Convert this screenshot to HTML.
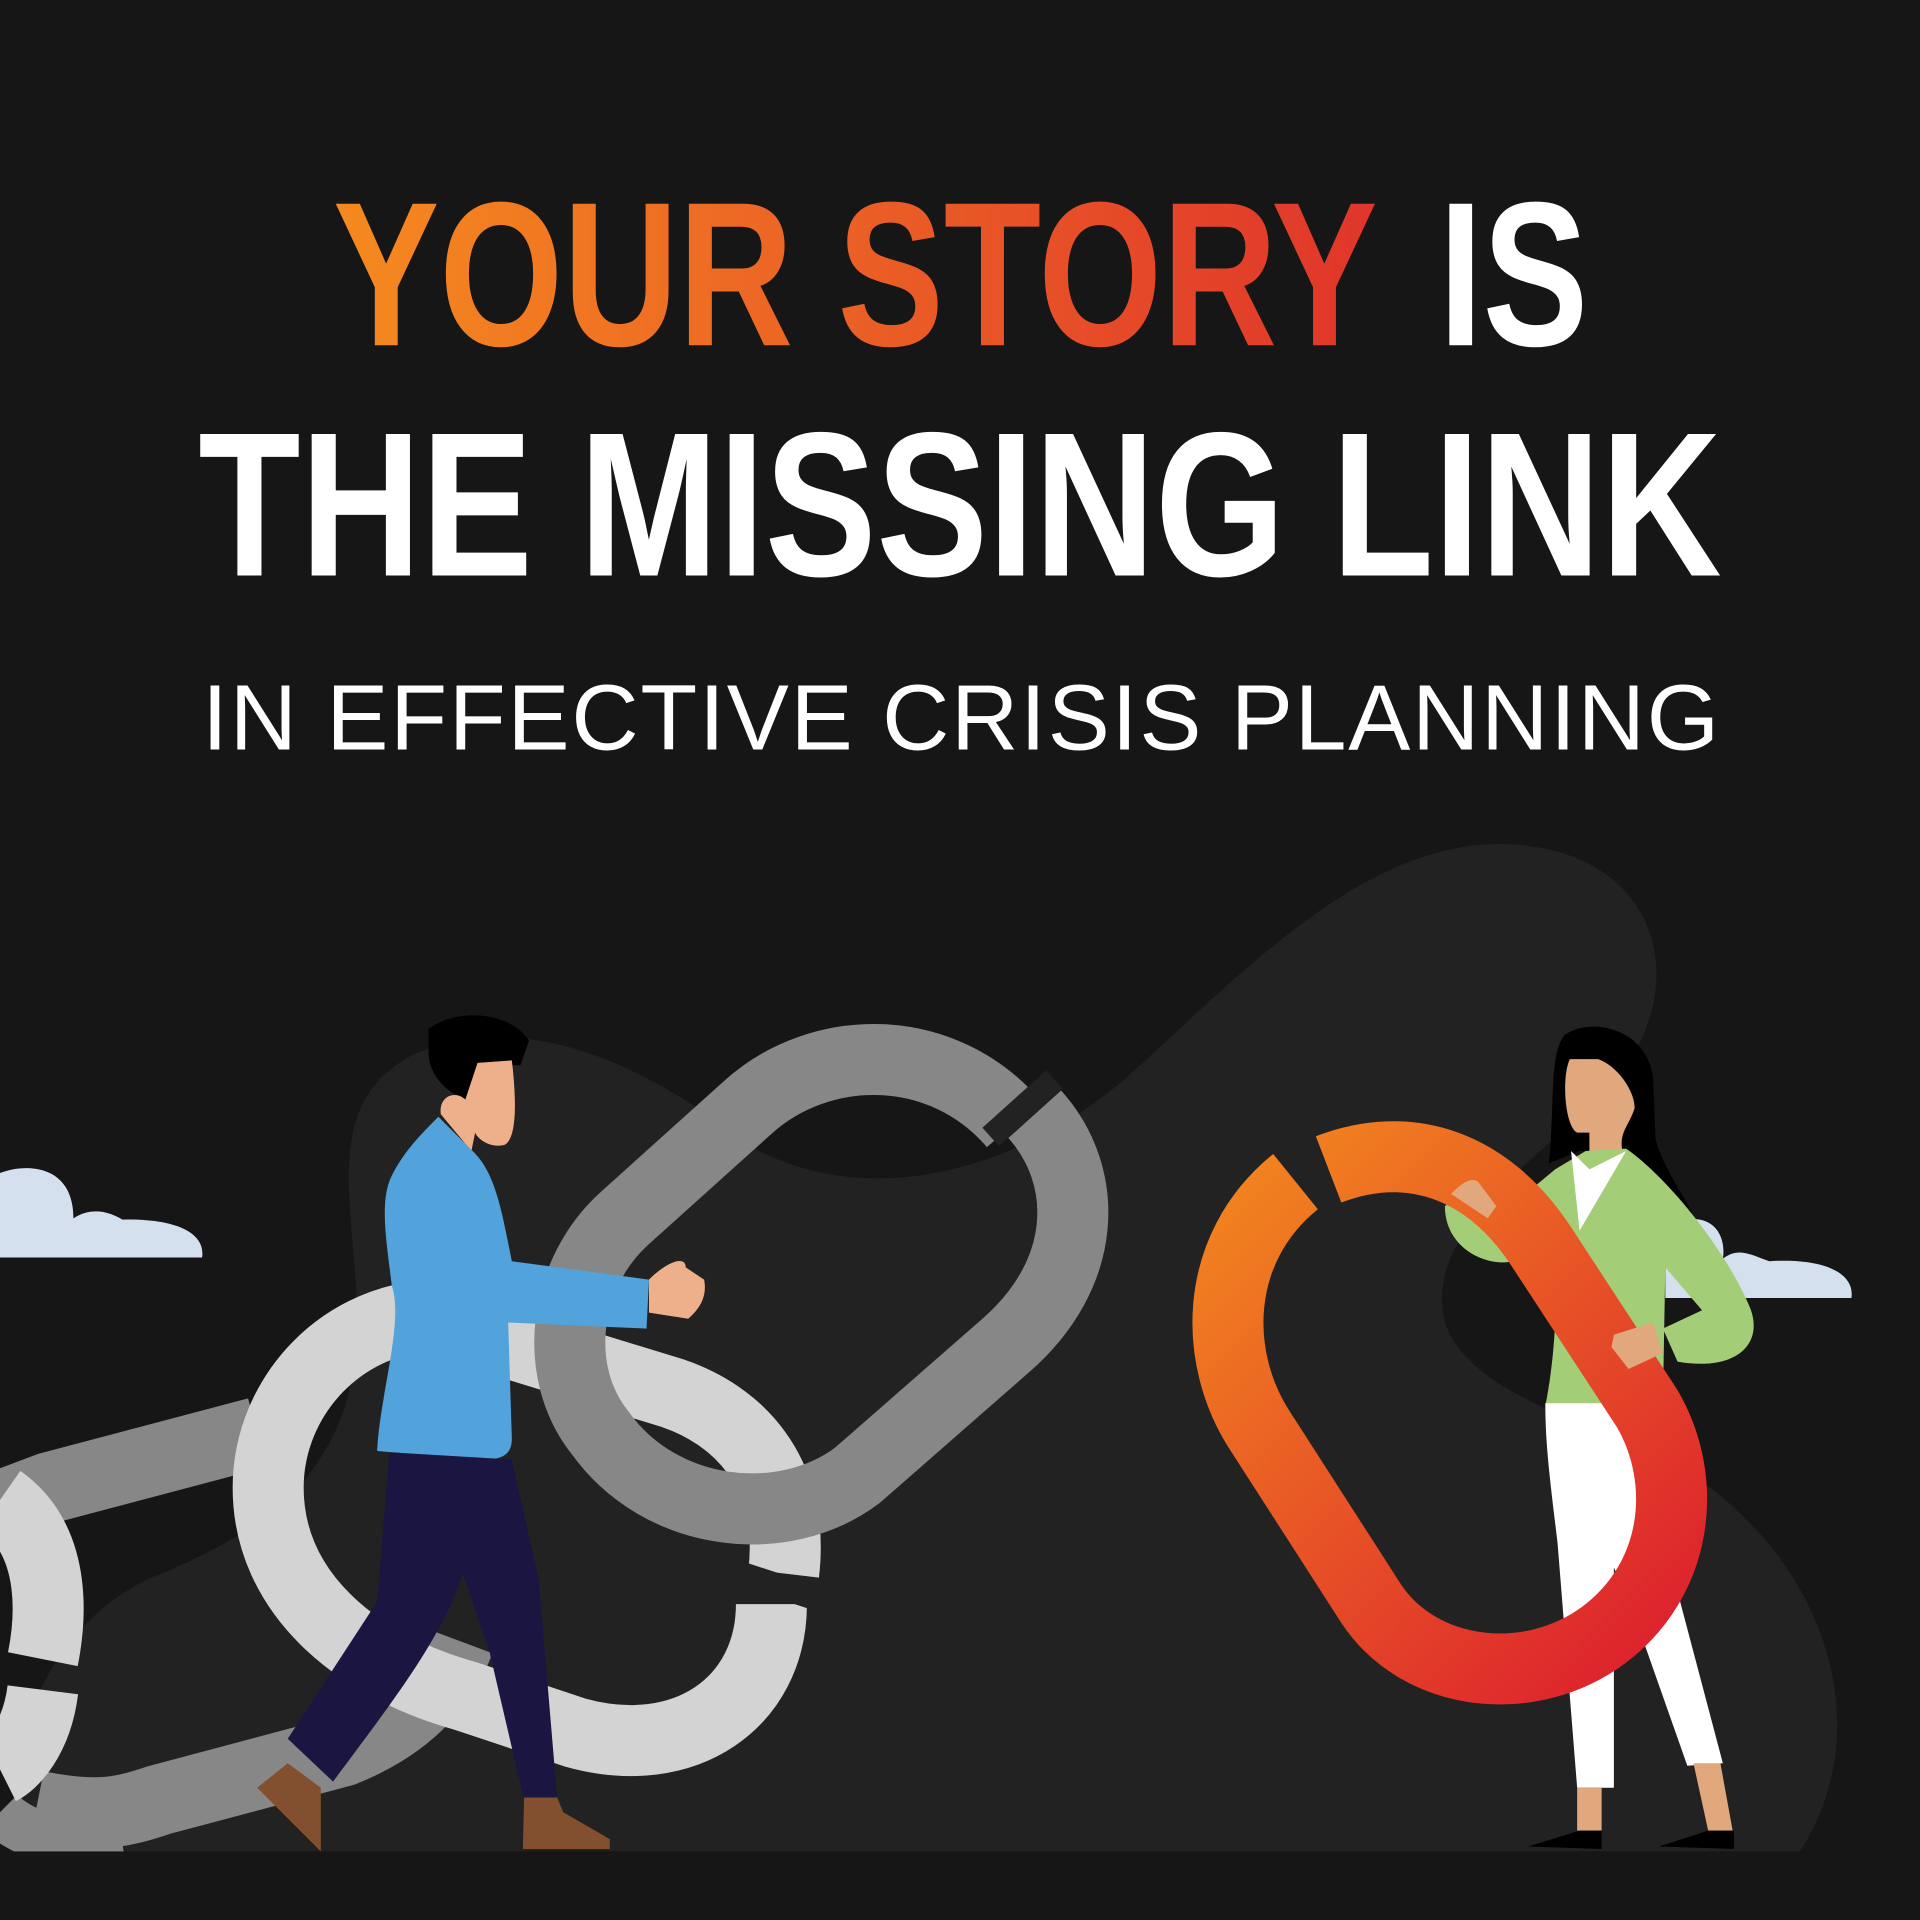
<!DOCTYPE html>
<html><head><meta charset="utf-8"><style>
html,body{margin:0;padding:0;background:#161616;}
svg{display:block;}
</style></head><body>
<svg width="1920" height="1920" viewBox="0 0 1568 1568" xmlns="http://www.w3.org/2000/svg">
<defs>
<linearGradient id="tg" x1="272" y1="0" x2="1125" y2="0" gradientUnits="userSpaceOnUse">
<stop offset="0" stop-color="#f58a1f"/><stop offset="1" stop-color="#e0352b"/></linearGradient>
<linearGradient id="og" x1="1000" y1="950" x2="1390" y2="1340" gradientUnits="userSpaceOnUse">
<stop offset="0" stop-color="#f2861f"/><stop offset="1" stop-color="#dc1e2e"/></linearGradient>
</defs>
<rect width="1568" height="1568" fill="#161616"/>
<!-- blob -->
<path d="M20 1512 C0 1420 40 1330 120 1290 C220 1250 290 1200 292 1080 C290 980 260 900 340 860 C440 820 540 880 620 940 C720 990 840 950 920 880 C1020 790 1120 680 1240 690 C1360 700 1380 810 1320 880 C1270 940 1160 1000 1180 1080 C1200 1140 1300 1160 1390 1210 C1500 1290 1530 1420 1470 1512 Z" fill="#222"/>
<!-- title -->
<g font-family="'Liberation Sans',sans-serif" font-weight="bold">
<text x="272" y="282" font-size="168" textLength="853" lengthAdjust="spacingAndGlyphs" fill="url(#tg)">YOUR STORY</text>
<text x="1175" y="282" font-size="168" textLength="122" lengthAdjust="spacingAndGlyphs" fill="#fff">IS</text>
<text x="162" y="470" font-size="168" textLength="1244" lengthAdjust="spacingAndGlyphs" fill="#fff">THE MISSING LINK</text>
</g>
<text x="165" y="612" font-family="'Liberation Sans',sans-serif" font-size="76" textLength="1239" lengthAdjust="spacing" fill="#fff">IN EFFECTIVE CRISIS PLANNING</text>
<!-- clouds -->
<path d="M0 1027 L0 958 C20 950 60 950 60 995 C75 985 90 990 100 996 C150 995 168 1010 165 1027 Z" fill="#d5e0ef"/>
<path d="M1360 1060 L1360 1000 C1400 985 1410 1010 1407 1028 C1420 1018 1430 1025 1445 1030 C1490 1027 1515 1040 1512 1060 Z" fill="#d5e0ef"/>
<!-- back-left dark chain -->
<path d="M0 1230 L40 1215 L210 1170 M30 1475 C80 1485 100 1480 130 1470 L280 1430 C330 1410 360 1380 375 1340" fill="none" stroke="#878787" stroke-width="58" stroke-linecap="butt"/>
<path d="M0 1480 C20 1500 60 1510 100 1505" fill="none" stroke="#878787" stroke-width="40"/>
<!-- leftmost light partial -->
<path d="M0 1225 C50 1260 40 1330 35 1355 M35 1380 C30 1420 10 1440 0 1445" fill="none" stroke="#d3d3d3" stroke-width="58"/>
<!-- light gray link -->
<path d="M360 1074 C280 1074 219 1140 219 1215 C219 1300 290 1360 380 1385 L470 1415 C560 1440 630 1390 630 1310 M640 1285 C650 1200 600 1155 550 1138 L410 1095 C390 1085 375 1074 360 1074" fill="none" stroke="#d3d3d3" stroke-width="58"/>
<rect x="595" y="1285" width="80" height="20" fill="#222" transform="rotate(18 635 1295)"/>
<!-- dark gray link -->
<path d="M828 918 C770 850 670 850 610 905 L510 995 C460 1040 450 1120 490 1170 C540 1240 640 1250 700 1205 L820 1100 C890 1040 890 960 845 910" fill="none" stroke="#878787" stroke-width="58"/>
<rect x="800" y="895" width="70" height="20" fill="#222" transform="rotate(-42 835 905)"/>
<!-- man -->
<path d="M350 840 C380 820 420 830 432 850 L425 870 L405 870 L395 900 C370 900 350 880 350 860 Z" fill="#000"/>
<path d="M390 868 L418 866 C422 900 422 930 412 935 C400 938 390 930 388 925 L385 940 L360 910 C358 895 372 890 380 898 Z" fill="#eeb08b"/>
<path d="M358 912 L388 942 C405 960 410 990 418 1030 L530 1045 L528 1085 L415 1080 L418 1175 C418 1188 410 1192 395 1192 L308 1185 C310 1140 330 1080 320 1050 C315 1010 310 980 320 960 C330 940 345 925 358 912 Z" fill="#52a3db"/>
<path d="M530 1045 C545 1030 560 1025 560 1035 L575 1045 C578 1060 570 1070 562 1077 L530 1072 Z" fill="#eeb08b"/>
<path d="M318 1186 L418 1192 L440 1290 L455 1468 L428 1470 L400 1350 L378 1285 C360 1340 320 1390 272 1455 L235 1420 L308 1308 Z" fill="#1b1541"/>
<path d="M235 1440 L262 1460 L262 1512 L210 1460 Z" fill="#82502e"/>
<path d="M428 1468 L455 1468 L460 1480 L498 1502 L498 1510 L427 1510 Z" fill="#82502e"/>
<!-- woman -->
<path d="M1278 845 C1300 830 1345 840 1350 880 L1352 930 C1360 960 1380 980 1385 1000 L1360 1010 L1330 940 L1290 940 L1265 950 C1270 900 1265 860 1278 845 Z" fill="#000"/>
<path d="M1282 865 L1305 865 C1320 870 1335 890 1335 905 C1330 920 1322 925 1325 940 L1298 952 L1298 925 L1288 925 C1278 920 1275 880 1282 865 Z" fill="#e0a87c"/>
<path d="M1270 955 L1295 940 L1328 938 C1360 960 1410 1020 1430 1070 C1440 1100 1415 1120 1370 1112 L1358 1085 L1390 1070 L1360 1035 L1358 1145 L1262 1148 C1272 1100 1272 1040 1270 1000 L1235 1030 C1215 1035 1180 1020 1180 985 L1200 970 L1222 995 Z" fill="#a4cd78"/>
<path d="M1283 940 L1298 955 L1328 940 L1290 1005 Z" fill="#fff"/>
<path d="M1262 1146 L1358 1146 L1370 1300 L1407 1440 L1378 1442 L1335 1320 L1318 1280 L1318 1460 L1288 1460 L1272 1260 C1266 1210 1262 1180 1262 1146 Z" fill="#fff"/>
<path d="M1288 1460 L1308 1460 L1308 1495 L1288 1495 Z M1383 1440 L1405 1440 L1415 1495 L1395 1495 Z" fill="#e0a87c"/>
<path d="M1248 1508 L1290 1495 L1308 1495 L1308 1510 Z M1355 1508 L1395 1495 L1416 1495 L1416 1510 Z" fill="#000"/>
<!-- orange link -->
<path d="M1058 965 C990 1020 990 1110 1030 1170 L1120 1310 C1160 1370 1250 1380 1310 1335 C1370 1290 1380 1210 1345 1150 L1260 1020 C1215 950 1150 930 1085 955" fill="none" stroke="url(#og)" stroke-width="58"/>
<!-- woman hands over link -->
<path d="M1185 975 C1190 970 1200 960 1207 965 L1222 985 L1215 995 Z" fill="#e0a87c"/>
<path d="M1318 1090 L1350 1080 L1358 1105 L1330 1118 L1316 1100 Z" fill="#e0a87c"/>
<!-- ground -->
<rect x="0" y="1512" width="1568" height="56" fill="#161616"/>
</svg>
</body></html>
